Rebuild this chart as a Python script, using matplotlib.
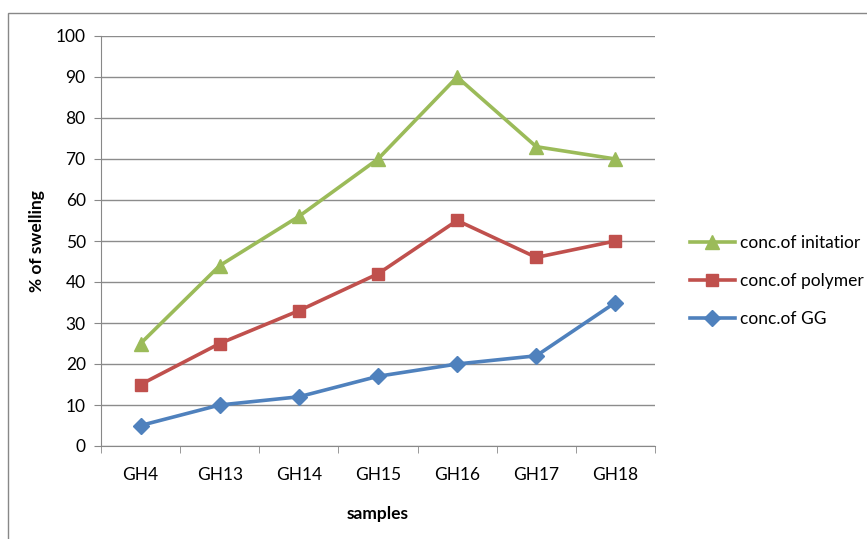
import matplotlib
matplotlib.use("Agg")
import matplotlib.pyplot as plt
from matplotlib.patches import Rectangle

samples = ["GH4", "GH13", "GH14", "GH15", "GH16", "GH17", "GH18"]
initiator = [25, 44, 56, 70, 90, 73, 70]
polymer = [15, 25, 33, 42, 55, 46, 50]
gg = [5, 10, 12, 17, 20, 22, 35]
yticks = [0, 10, 20, 30, 40, 50, 60, 70, 80, 90, 100]

plt.rcParams['font.family'] = ['Lato', 'DejaVu Sans']

fig = plt.figure(figsize=(8.67, 5.39), dpi=100)
ax = fig.add_axes([101/867, 1-446/539, 554/867, 410/539])

x = list(range(len(samples)))
ax.plot(x, initiator, color="#9BBB59", lw=2.6, marker="^", ms=10, label="conc.of initatior")
ax.plot(x, polymer, color="#C0504D", lw=2.6, marker="s", ms=9, label="conc.of polymer")
ax.plot(x, gg, color="#4F81BD", lw=2.6, marker="D", ms=8, label="conc.of GG")

ax.set_xlim(-0.5, len(samples) - 0.5)
ax.set_ylim(0, 100)
ax.set_yticks(yticks)
ax.set_yticklabels([str(v) for v in yticks], fontsize=12.5)
ax.set_xticks(x)
ax.set_xticklabels(samples, fontsize=12.5)
ax.set_xticks([i - 0.5 for i in range(len(samples) + 1)], minor=True)
ax.tick_params(axis='x', which='major', length=0, pad=15)
ax.tick_params(axis='x', which='minor', length=5, color="#888888", direction='out')
ax.tick_params(axis='y', length=5, color="#888888", pad=6)
ax.grid(axis='y', color="#8c8c8c", lw=1)
ax.set_axisbelow(True)
for s in ['top', 'right']:
    ax.spines[s].set_visible(False)
for s in ['left', 'bottom']:
    ax.spines[s].set_color("#888888")

ax.set_ylabel("% of swelling", fontsize=12.5, fontweight='bold', labelpad=8)
ax.set_xlabel("samples", fontsize=12.5, fontweight='bold', labelpad=17)

leg = ax.legend(loc='center left', bbox_to_anchor=(674/867, 1-281/539), bbox_transform=fig.transFigure,
                frameon=False, fontsize=12.5, handlelength=2.6, labelspacing=1.25, handletextpad=0.3)

fig.patches.append(Rectangle((8/867, -0.1), 1.0, 1.1 - 13/539, transform=fig.transFigure,
                             fill=False, edgecolor="#888888", lw=1, clip_on=False))

fig.savefig("out.png", dpi=100)
